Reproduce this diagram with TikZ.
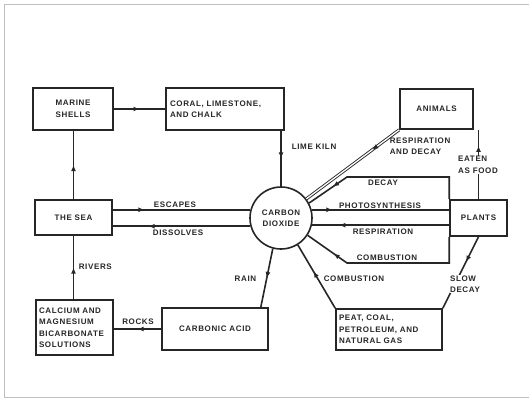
\documentclass[tikz,border=0pt]{standalone}
\usepackage{fontspec}
\setmainfont{Liberation Sans}[LetterSpace=8]
\usetikzlibrary{arrows.meta,decorations.markings}
\definecolor{ink}{gray}{0.15}
\definecolor{frame}{gray}{0.75}

\begin{document}
\begin{tikzpicture}[x=1pt, y=-1pt, color=ink, line width=1.6pt,
    txt/.style={font=\bfseries\fontsize{8}{11.5}\selectfont},
    box/.style={txt, draw, rectangle, inner sep=2pt, align=center},
    lbl/.style={txt, inner sep=1pt, align=left},
    mid/.style={postaction={decorate}, decoration={markings,
      mark=at position #1 with {\arrow{Latex[length=6pt,width=5pt]}}}}]
  \useasboundingbox (0,0) rectangle (529,398);
  % outer frame
  \draw[frame, line width=1pt] (530,5) -- (4,5) -- (4,397) -- (530,397);

  % Boxes, placed at their centres
  \node[box, minimum width=80pt, minimum height=42pt] (shells) at (73,109) {MARINE\\SHELLS};
  \node[box, minimum width=118pt, minimum height=42pt, text width=110pt, align=left] (coral) at (225,109) {CORAL, LIMESTONE,\\AND CHALK};
  \node[box, minimum width=73pt, minimum height=40pt] (animals) at (436.5,109) {ANIMALS};
  \node[box, minimum width=77pt, minimum height=35pt] (sea) at (73.5,217.5) {THE SEA};
  \node[box, minimum width=77pt, minimum height=55pt, text width=71pt, align=left] (calcium) at (74.5,327.5) {CALCIUM AND\\MAGNESIUM\\BICARBONATE\\SOLUTIONS};
  \node[box, minimum width=106pt, minimum height=42pt] (acid) at (215,329) {CARBONIC ACID};
  \node[box, minimum width=106pt, minimum height=41pt, text width=100pt, align=left] (peat) at (389,329.5) {PEAT, COAL,\\PETROLEUM, AND\\NATURAL GAS};
  \node[box, minimum width=57pt, minimum height=36pt] (plants) at (478.5,218) {PLANTS};
  \node[box, circle, minimum size=62pt, inner sep=0pt, fill=white] (co2) at (281,218) {CARBON\\DIOXIDE};

  % left side
  \draw[mid=0.5] (shells) -- (coral);
  \draw[mid=0.5] (sea.north) -- (sea.north |- shells.south);
  \draw[mid=0.5] (sea.south |- calcium.north) -- (sea.south);
  \draw[mid=0.5] (acid.west) -- (acid.west -| calcium.east);
  \node[lbl, anchor=south] at (138,326) {ROCKS};
  \node[lbl, anchor=west] at (77,267) {RIVERS};

  % sea and carbon dioxide
  \draw[mid=0.23] (sea.east |- co2.165) -- (co2.165);
  \draw[mid=0.74] (co2.195) -- (co2.195 -| sea.east);
  \node[lbl, anchor=south] at (175,209) {ESCAPES};
  \node[lbl, anchor=north] at (178,228) {DISSOLVES};

  % lime kiln and rain
  \draw[mid=0.5] (co2.north |- coral.south) -- (co2.north);
  \node[lbl, anchor=west] at (290,147) {LIME KILN};
  \draw[mid=0.5] (co2.255) -- ([xshift=-8pt]acid.north east);
  \node[lbl, anchor=east] at (258,279) {RAIN};

  % fossil fuels
  \draw[mid=0.58] (peat.north west) -- (co2.302);
  \node[lbl, anchor=west] at (322,279) {COMBUSTION};
  \draw[mid=0.35] (plants.south) -- (peat.north east);
  \node[lbl, fill=white, inner sep=0pt] at (465,284) {SLOW\\DECAY};

  % animals
  \draw[mid=0.77] (plants.north) -- (plants.north |- animals.south);
  \node[lbl, fill=white, inner sep=0pt] at (478,165) {EATEN\\AS FOOD};
  \draw[double, double distance=1.3pt, line width=0.9pt, mid=0.29] (animals.south west) -- (co2.37);
  \node[lbl, anchor=north west, inner sep=0pt] at (389,137) {RESPIRATION\\AND DECAY};

  % plants and carbon dioxide
  \draw[mid=0.83] (plants.north west) -- (plants.north west |- 0,177) -- (347,177) -- (co2.28);
  \node[lbl, anchor=north] at (383,178) {DECAY};
  \draw[mid=0.15] (co2.15) -- (co2.15 -| plants.west);
  \node[lbl, anchor=south] at (380,210) {PHOTOSYNTHESIS};
  \draw[mid=0.8] (co2.-13 -| plants.west) -- (co2.-13);
  \node[lbl, anchor=north] at (383,227) {RESPIRATION};
  \draw[mid=0.82] (plants.south west) -- (plants.south west |- 0,263) -- (347,263) -- (co2.-33);
  \node[lbl, anchor=south] at (387,262) {COMBUSTION};
\end{tikzpicture}
\end{document}
